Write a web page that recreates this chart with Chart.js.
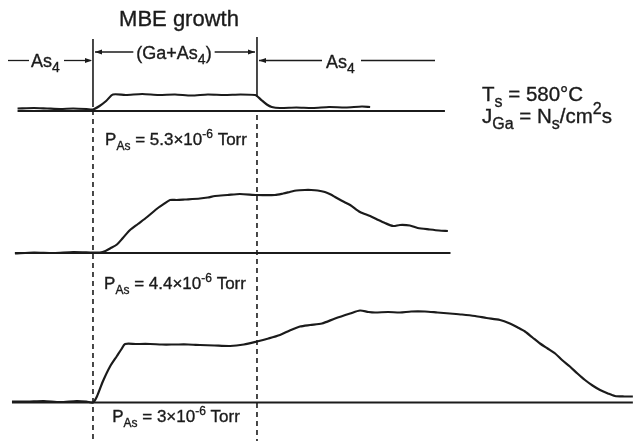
<!DOCTYPE html>
<html>
<head>
<meta charset="utf-8">
<script src="https://cdn.jsdelivr.net/npm/chart.js@4.4.1/dist/chart.umd.min.js"></script>
<style>
  html, body { margin: 0; padding: 0; background: #ffffff; }
  #wrap { width: 635px; height: 441px; }
</style>
</head>
<body>
<div id="wrap"><canvas id="c" width="635" height="441"></canvas></div>
<script>
// Time axis: arbitrary units, Ga shutter opens at t = 0 and closes at t = 50
const shutterTimes = [0, 50];

// Trace recorded at P_As = 5.3e-6 Torr (time, signal)
const tHigh = [-23, -18, -14, -10, -6, -2, 0, 2, 4, 6.1, 10, 15, 20, 25, 30, 35, 40, 45, 49.4, 50, 51.5, 53, 54.5, 57, 62, 67, 72, 77, 82, 84.5];
const sHigh = [0.25, 0.3, 0.25, 0.2, 0.25, 0.2, 0.15, 0.5, 1.0, 1.65, 1.6, 1.7, 1.6, 1.65, 1.55, 1.65, 1.6, 1.65, 1.6, 1.5, 1.05, 0.65, 0.4, 0.3, 0.35, 0.3, 0.4, 0.35, 0.45, 0.4];

// Trace recorded at P_As = 4.4e-6 Torr
const tMid = [-23.8, -18, -12, -6, 0, 2.1, 3.8, 5.2, 7.3, 9.1, 11.3, 13.7, 16.5, 19.8, 21.8, 23.5, 25.5, 28, 32.6, 35, 37.2, 41, 44.8, 50, 55.5, 58, 60, 62, 64.6, 66.5, 68.5, 70.7, 72.5, 73.8, 76, 78.4, 81.4, 84.5, 87, 89, 91.5, 93.6, 96.6, 99, 102.7, 105.5, 108.2];
const sMid = [-0.05, 0.05, 0.0, 0.1, 0.05, 0.05, 0.2, 0.45, 0.85, 1.5, 2.3, 2.9, 3.6, 4.5, 4.95, 5.3, 5.3, 5.35, 5.45, 5.55, 5.7, 5.8, 5.9, 5.8, 5.8, 5.95, 6.1, 6.25, 6.3, 6.3, 6.25, 6.1, 5.85, 5.6, 5.2, 4.8, 4.1, 3.7, 3.3, 3.0, 2.7, 2.8, 2.75, 2.5, 2.35, 2.25, 2.2];

// Trace recorded at P_As = 3e-6 Torr
const tLow = [-24.7, -20, -15, -10, -5, -2, 0, 1.2, 3.0, 5.2, 7.3, 8.6, 9.8, 13, 17.4, 21, 25, 29, 32.6, 37, 41.8, 46, 50, 53.5, 57, 60, 63.1, 66.2, 69.8, 73.8, 78.4, 81.4, 84, 86, 90, 93.6, 97, 101.2, 105, 108.8, 112.5, 116.5, 120, 124.1, 127.1, 129.5, 131.7, 134, 136.3, 138.6, 140.9, 143, 145.4, 147.7, 150, 152.3, 154.6, 157, 159.1, 162, 164.6];
const sLow = [0.1, 0.1, 0.15, 0.05, 0.15, 0.1, 0.0, 0.6, 2.1, 3.6, 4.65, 5.3, 5.85, 5.85, 5.85, 5.8, 5.8, 5.8, 5.75, 5.7, 5.65, 5.8, 6.1, 6.4, 6.75, 7.2, 7.6, 7.75, 7.9, 8.4, 8.9, 9.2, 9.05, 9.0, 9.05, 9.0, 9.1, 9.1, 9.0, 8.9, 8.8, 8.65, 8.45, 8.25, 7.9, 7.5, 7.1, 6.5, 5.9, 5.4, 4.9, 4.25, 3.6, 2.9, 2.25, 1.7, 1.25, 0.9, 0.65, 0.6, 0.6];

// Time span covered by each zero-signal reference line
const spanHigh = [-23, 107.3];
const spanMid = [-23.8, 109];
const spanLow = [-24.7, 164.6];

// Vertical offsets that stack the three records on one canvas
const OFFSET = { high: 33.0, mid: 18.8, low: 3.85 };
const INK = '#1b1b1b';
const FONT = '"Liberation Sans", Arial, Helvetica, sans-serif';

function series(ts, ss, off) {
  return ts.map((t, i) => ({ x: t, y: ss[i] + off }));
}
function zeroLine(span, off) {
  return [{ x: span[0], y: off }, { x: span[1], y: off }];
}
function traceDs(data) {
  return { data, borderColor: INK, borderWidth: 2.2, pointRadius: 0, tension: 0.25, fill: false };
}
function zeroDs(data) {
  return { data, borderColor: INK, borderWidth: 2, pointRadius: 0, tension: 0, fill: false };
}

// Draws text made of normal / subscript / superscript pieces
function richText(ctx, x, y, parts, size, align, ratio) {
  const small = Math.round(size * (ratio || 0.7));
  const fontOf = k => (k === 'sub' || k === 'sup' ? small : size) + 'px ' + FONT;
  let total = 0;
  parts.forEach(p => { ctx.font = fontOf(p[1]); total += ctx.measureText(p[0]).width; });
  let cx = align === 'center' ? x - total / 2 : x;
  ctx.textBaseline = 'alphabetic';
  ctx.textAlign = 'left';
  ctx.lineWidth = 0.35;
  parts.forEach(p => {
    ctx.font = fontOf(p[1]);
    let dy = 0;
    if (p[1] === 'sub') dy = size * 0.3;
    if (p[1] === 'sup') dy = -size * 0.42;
    ctx.fillText(p[0], cx, y + dy);
    ctx.strokeText(p[0], cx, y + dy);
    cx += ctx.measureText(p[0]).width;
  });
  return total;
}

function arrowHead(ctx, x, y, dir) {
  ctx.beginPath();
  ctx.moveTo(x, y);
  ctx.lineTo(x - dir * 7, y - 2.6);
  ctx.lineTo(x - dir * 7, y + 2.6);
  ctx.closePath();
  ctx.fill();
}
function hLine(ctx, x1, x2, y, w) {
  ctx.lineWidth = w || 1.3;
  ctx.beginPath(); ctx.moveTo(x1, y); ctx.lineTo(x2, y); ctx.stroke();
}

const annotations = {
  id: 'annotations',
  afterDatasetsDraw(chart) {
    const ctx = chart.ctx;
    const xs = chart.scales.x;
    const xOpen = xs.getPixelForValue(shutterTimes[0]);
    const xClose = xs.getPixelForValue(shutterTimes[1]);
    ctx.save();
    ctx.strokeStyle = INK;
    ctx.fillStyle = INK;

    // shutter markers: solid in the header, dashed through the records
    ctx.lineWidth = 1.6;
    ctx.beginPath(); ctx.moveTo(xOpen, 39); ctx.lineTo(xOpen, 107); ctx.stroke();
    ctx.beginPath(); ctx.moveTo(xClose, 37); ctx.lineTo(xClose, 97); ctx.stroke();
    ctx.setLineDash([5, 4]);
    ctx.beginPath(); ctx.moveTo(xOpen, 110); ctx.lineTo(xOpen, 441); ctx.stroke();
    ctx.beginPath(); ctx.moveTo(xClose, 115); ctx.lineTo(xClose, 441); ctx.stroke();
    ctx.setLineDash([]);

    // header
    richText(ctx, 179, 26, [['MBE growth']], 22, 'center');

    // flux periods with arrows
    hLine(ctx, 8, 29, 60.5);
    richText(ctx, 31, 67, [['As'], ['4', 'sub']], 18, 'left', 0.78);
    hLine(ctx, 64, xOpen - 2, 60.5);
    arrowHead(ctx, xOpen - 1, 60.5, 1);

    const w = richText(ctx, 174, 59, [['(Ga+As'], ['4', 'sub'], [')']], 18, 'center', 0.78);
    hLine(ctx, xOpen + 2, 174 - w / 2 - 3, 52);
    arrowHead(ctx, xOpen + 2, 52, -1);
    hLine(ctx, 174 + w / 2 + 3, xClose - 2, 52);
    arrowHead(ctx, xClose - 2, 52, 1);

    hLine(ctx, xClose + 2, 322, 60.5);
    arrowHead(ctx, xClose + 2, 60.5, -1);
    richText(ctx, 326, 68, [['As'], ['4', 'sub']], 18, 'left', 0.78);
    hLine(ctx, 361, 435, 60.5);

    // growth conditions
    richText(ctx, 482, 101, [['T'], ['s', 'sub'], [' = 580°C']], 20.5, 'left', 0.8);
    richText(ctx, 482, 123, [['J'], ['Ga', 'sub'], [' = N'], ['s', 'sub'], ['/cm'], ['2', 'sup'], ['s']], 20.5, 'left', 0.8);

    // arsenic pressure of each record
    richText(ctx, 176, 145, [['P'], ['As', 'sub'], [' = 5.3×10'], ['-6', 'sup'], [' Torr']], 17, 'center');
    richText(ctx, 175, 289, [['P'], ['As', 'sub'], [' = 4.4×10'], ['-6', 'sup'], [' Torr']], 17, 'center');
    richText(ctx, 176, 422, [['P'], ['As', 'sub'], [' = 3×10'], ['-6', 'sup'], [' Torr']], 17, 'center');
    ctx.restore();
  }
};

new Chart(document.getElementById('c'), {
  type: 'line',
  data: {
    datasets: [
      zeroDs(zeroLine(spanHigh, OFFSET.high)),
      zeroDs(zeroLine(spanMid, OFFSET.mid)),
      zeroDs(zeroLine(spanLow, OFFSET.low)),
      traceDs(series(tHigh, sHigh, OFFSET.high)),
      traceDs(series(tMid, sMid, OFFSET.mid)),
      traceDs(series(tLow, sLow, OFFSET.low))
    ]
  },
  options: {
    responsive: false,
    animation: false,
    events: [],
    layout: { padding: 0 },
    plugins: { legend: { display: false }, tooltip: { enabled: false } },
    scales: {
      x: { type: 'linear', min: -28.35, max: 165.25, display: false },
      y: { type: 'linear', min: 0, max: 44.1, display: false }
    }
  },
  plugins: [annotations]
});
</script>
</body>
</html>
